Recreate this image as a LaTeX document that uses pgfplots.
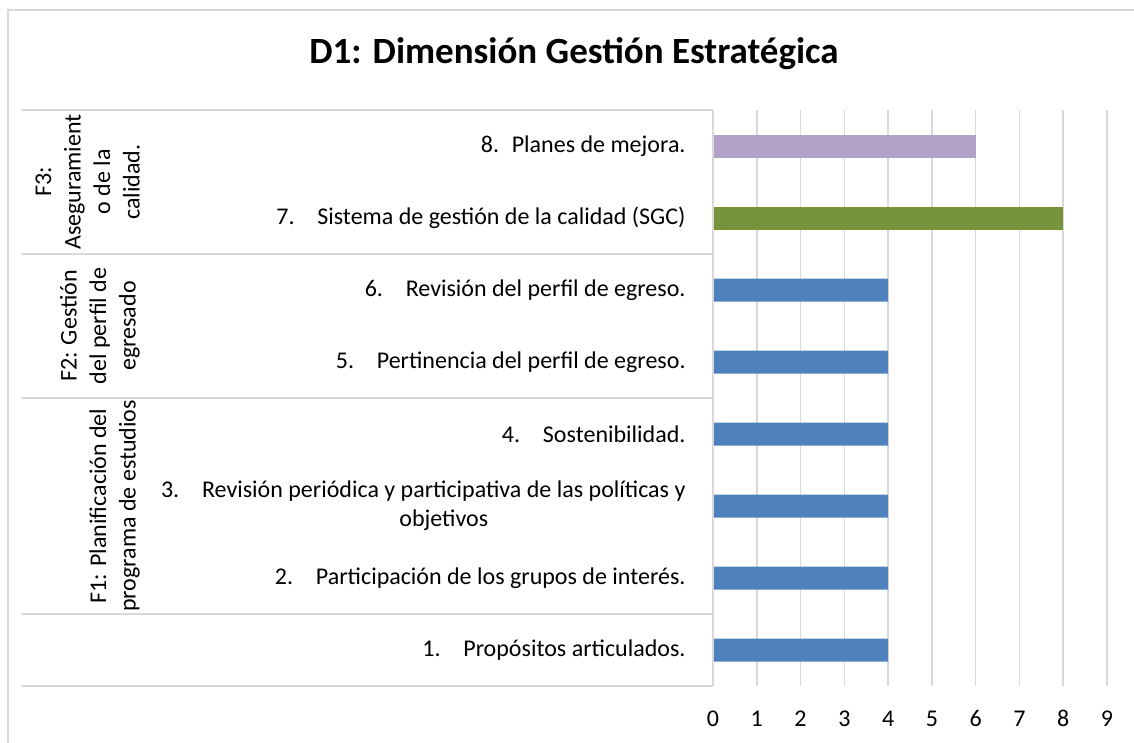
\documentclass[border=0pt]{standalone}
\usepackage{fontspec}
\setmainfont{Carlito}
\usepackage{pgfplots}
\pgfplotsset{compat=1.18}
\definecolor{cblue}{RGB}{79,129,189}
\definecolor{cgreen}{RGB}{119,147,60}
\definecolor{cpurple}{RGB}{179,162,199}
\definecolor{cgrid}{RGB}{217,217,217}
\newcommand{\nm}[2][41pt]{\makebox[#1][l]{#2}}
\begin{document}
\fontsize{24}{29.3}\selectfont
\begin{tikzpicture}[x=1pt,y=1pt]
\useasboundingbox (0,0) rectangle (1134,742);
\draw[cgrid, line width=1.5pt] (8,-20) -- (8,732) -- (1160,732);
\node[font=\fontsize{37}{44}\selectfont\bfseries, anchor=base, inner sep=0pt] at (574,678) {D1: Dimensión Gestión Estratégica};
\begin{axis}[at={(713pt,56pt)}, anchor=south west, width=394pt, height=576pt, scale only axis,
  xmin=0, xmax=9, ymin=0.5, ymax=8.5,
  xtick={0,1,...,9}, ytick={1,2,...,8},
  yticklabels={
    {\nm{1.}Propósitos articulados.},
    {\nm{2.}Participación de los grupos de interés.},
    {\nm{3.}\begin{tabular}[t]{@{}c@{}}Revisión periódica y participativa de las políticas y\\objetivos\end{tabular}},
    {\nm{4.}Sostenibilidad.},
    {\nm{5.}Pertinencia del perfil de egreso.},
    {\nm{6.}Revisión del perfil de egreso.},
    {\nm{7.}Sistema de gestión de la calidad (SGC)},
    {\nm[31pt]{8.}Planes de mejora.}},
  axis line style={draw=none},
  tick style={draw=none},
  xmajorgrids, grid style={cgrid, line width=1.5pt},
  xticklabel style={font=\fontsize{24}{29}\selectfont, inner sep=0pt, anchor=base, yshift=-40pt},
  yticklabel style={font=\fontsize{24}{29.3}\selectfont, inner sep=0pt, anchor=east, xshift=-23pt, align=right},
  /pgf/number format/assume math mode=true,
  xbar, bar width=23pt, bar shift=0pt,
  clip=false,
]
\addplot[fill=cblue, draw=none] coordinates {(4,1) (4,2) (4,3) (4,4) (4,5) (4,6)};
\addplot[fill=cgreen, draw=none] coordinates {(8,7)};
\addplot[fill=cpurple, draw=none] coordinates {(6,8)};
\end{axis}
\foreach \yy in {632,488,344,128,56} {\draw[cgrid, line width=1.5pt] (21,\yy) -- (713,\yy);}
\draw[cgrid, line width=1.5pt] (713,56) -- (713,632);
\begin{scope}[every node/.style={rotate=90, anchor=south, align=center, inner sep=0pt, font=\fontsize{24}{29.5}\selectfont}]
\node at (140,560) {F3:\\Aseguramient\\o de la\\calidad.};
\node at (140,416) {F2: Gestión\\del perfil de\\egresado};
\node at (140,236) {F1: Planificación del\\programa de estudios};
\end{scope}
\end{tikzpicture}
\end{document}
